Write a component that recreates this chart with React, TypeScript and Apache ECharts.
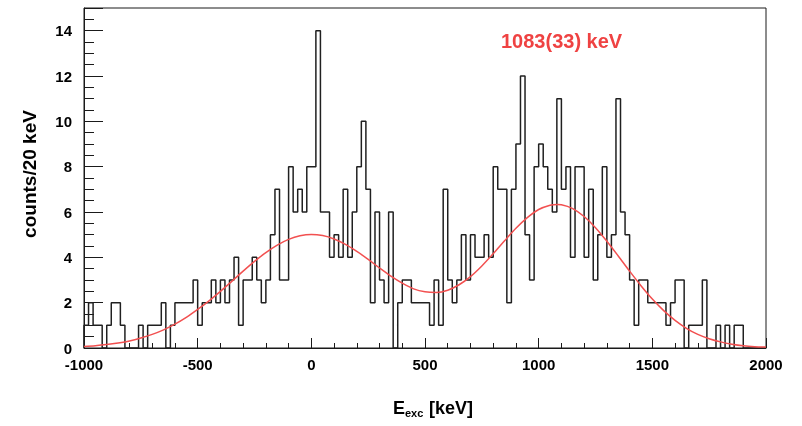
import { useEffect, useRef } from "react";
import * as echarts from "echarts";

// Excitation-energy spectrum, 20 keV bins from -1000 to 2000 keV
const BIN_WIDTH_KEV = 20;
const E_MIN = -1000;
const E_MAX = 2000;

// counts per bin, grouped in 500 keV blocks
const countsFrom_m1000 = [1, 2, 1, 1, 0, 1, 2, 2, 1, 0, 0, 0, 1, 0, 1, 1, 1, 2, 0, 1, 2, 2, 2, 2, 3];
const countsFrom_m500 = [1, 2, 2, 3, 2, 3, 2, 3, 4, 1, 3, 3, 4, 3, 2, 3, 5, 7, 3, 3, 8, 6, 7, 6, 8];
const countsFrom_0 = [8, 14, 6, 6, 4, 5, 4, 7, 4, 6, 8, 10, 7, 2, 6, 3, 2, 6, 0, 2, 3, 3, 2, 2, 2];
const countsFrom_500 = [2, 1, 3, 1, 7, 3, 2, 3, 5, 3, 5, 4, 4, 5, 4, 8, 7, 7, 2, 7, 9, 12, 5, 3, 8];
const countsFrom_1000 = [9, 8, 7, 6, 11, 7, 8, 4, 8, 8, 4, 7, 3, 5, 8, 4, 5, 11, 6, 5, 3, 1, 3, 3, 2];
const countsFrom_1500 = [2, 2, 2, 1, 2, 3, 3, 0, 1, 1, 1, 3, 0, 0, 1, 0, 1, 0, 1, 1, 0, 0, 0, 0, 0];

// fitted centroid of the upper peak and its uncertainty (keV)
const PEAK_CENTROID = 1083;
const PEAK_ERROR = 33;

// fit curve (two-peak fit), sampled energies and counts
const fitEnergies = [
  -1000, -950, -900, -850, -800, -750, -700, -650, -600, -550, -500, -450, -400, -350, -300,
  -250, -200, -150, -100, -50, 0, 50, 100, 150, 200, 250, 300, 350, 400, 450, 500, 550, 600,
  650, 700, 750, 800, 850, 900, 950, 1000, 1050, PEAK_CENTROID, 1100, 1150, 1200, 1250, 1300,
  1350, 1400, 1450, 1500, 1550, 1600, 1650, 1700, 1750, 1800, 1850, 1900, 1950, 2000,
];
const fitCounts = [
  0.07, 0.1, 0.15, 0.22, 0.31, 0.44, 0.6, 0.8, 1.05, 1.35, 1.7, 2.08, 2.5, 2.94, 3.39,
  3.82, 4.21, 4.54, 4.79, 4.95, 5.01, 4.96, 4.81, 4.57, 4.26, 3.91, 3.53, 3.17, 2.86, 2.61, 2.48, 2.45, 2.55,
  2.79, 3.15, 3.62, 4.16, 4.73, 5.28, 5.75, 6.11, 6.3, 6.33, 6.32, 6.15, 5.8, 5.31, 4.71,
  4.06, 3.39, 2.75, 2.16, 1.65, 1.22, 0.87, 0.6, 0.41, 0.27, 0.17, 0.1, 0.06, 0.04,
];

const FONT = "'Liberation Sans', Arial, Helvetica, sans-serif";
const INK = "#1a1a1a";
const RED = "#ef4242";

export default function App() {
  const ref = useRef<HTMLDivElement>(null);

  useEffect(() => {
    if (!ref.current) return;
    const chart = echarts.init(ref.current, null, { renderer: "svg" });

    const counts = [
      ...countsFrom_m1000,
      ...countsFrom_m500,
      ...countsFrom_0,
      ...countsFrom_500,
      ...countsFrom_1000,
      ...countsFrom_1500,
    ];

    // step outline: each bin starts at its low edge
    const hist: number[][] = [[E_MIN, 0]];
    counts.forEach((c, i) => hist.push([E_MIN + i * BIN_WIDTH_KEV, c]));
    const lastEdge = E_MIN + counts.length * BIN_WIDTH_KEV;
    hist.push([lastEdge, counts[counts.length - 1]]);
    hist.push([lastEdge, 0]);

    const fit = fitEnergies.map((e, i) => [e, fitCounts[i]]);

    chart.setOption({
      animation: false,
      grid: {
        left: 84,
        right: 36,
        top: 8,
        bottom: 78,
        show: true,
        borderColor: INK,
        borderWidth: 1,
      },
      xAxis: {
        type: "value",
        min: E_MIN,
        max: E_MAX,
        interval: 500,
        axisLine: { show: true, onZero: false, lineStyle: { color: INK, width: 1 } },
        axisTick: { show: true, inside: true, length: 10, lineStyle: { color: INK, width: 1 } },
        minorTick: { show: true, splitNumber: 5, length: 5, lineStyle: { color: INK, width: 1 } },
        axisLabel: {
          margin: 9,
          color: "#000",
          fontSize: 15,
          fontWeight: "bold",
          fontFamily: FONT,
          formatter: (v: number) => String(v),
        },
        splitLine: { show: false },
        minorSplitLine: { show: false },
      },
      yAxis: {
        type: "value",
        min: 0,
        max: 15,
        interval: 2,
        axisLine: { show: true, onZero: false, lineStyle: { color: INK, width: 1 } },
        axisTick: { show: true, inside: true, length: 19, lineStyle: { color: INK, width: 1 } },
        minorTick: { show: true, splitNumber: 4, length: 10, lineStyle: { color: INK, width: 1 } },
        axisLabel: {
          margin: 12,
          color: "#000",
          fontSize: 15,
          fontWeight: "bold",
          fontFamily: FONT,
          showMaxLabel: false,
        },
        splitLine: { show: false },
        minorSplitLine: { show: false },
      },
      series: [
        {
          type: "line",
          data: hist,
          step: "end",
          symbol: "none",
          lineStyle: { color: "#202020", width: 1.5 },
          z: 2,
        },
        {
          type: "line",
          data: fit,
          smooth: 0.3,
          symbol: "none",
          lineStyle: { color: "#f25050", width: 1.5 },
          z: 3,
        },
      ],
      graphic: [
        {
          type: "text",
          x: 29,
          y: 174,
          rotation: Math.PI / 2,
          style: {
            text: "counts/20 keV",
            fontSize: 19,
            fontWeight: "bold",
            fontFamily: FONT,
            fill: "#000",
            align: "center",
            verticalAlign: "middle",
          },
        },
        {
          type: "group",
          x: 393,
          y: 408,
          children: [
            {
              type: "text",
              x: 0,
              y: 0,
              style: {
                text: "E",
                fontSize: 18,
                fontWeight: "bold",
                fontFamily: FONT,
                fill: "#000",
                align: "left",
                verticalAlign: "middle",
              },
            },
            {
              type: "text",
              x: 12,
              y: 5,
              style: {
                text: "exc",
                fontSize: 11,
                fontWeight: "bold",
                fontFamily: FONT,
                fill: "#000",
                align: "left",
                verticalAlign: "middle",
              },
            },
            {
              type: "text",
              x: 31,
              y: 0,
              style: {
                text: " [keV]",
                fontSize: 18,
                fontWeight: "bold",
                fontFamily: FONT,
                fill: "#000",
                align: "left",
                verticalAlign: "middle",
              },
            },
          ],
        },
        {
          type: "text",
          x: 501,
          y: 41,
          style: {
            text: `${PEAK_CENTROID}(${PEAK_ERROR}) keV`,
            fontSize: 20,
            fontWeight: "bold",
            fontFamily: FONT,
            fill: RED,
            align: "left",
            verticalAlign: "middle",
          },
        },
      ],
    });

    return () => chart.dispose();
  }, []);

  return (
    <div
      ref={ref}
      style={{ position: "fixed", left: 0, top: 0, width: 802, height: 426 }}
    />
  );
}
